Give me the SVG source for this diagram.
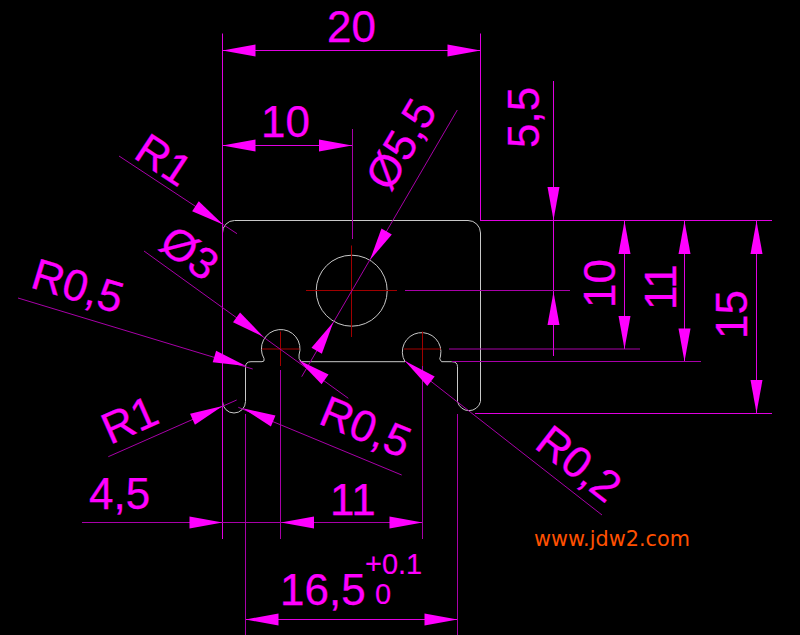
<svg xmlns="http://www.w3.org/2000/svg" width="800" height="635" viewBox="0 0 800 635">
<style>
.o{fill:none;stroke:#c8c8c8;stroke-width:1}
.c{fill:none;stroke:#a00000;stroke-width:1}
.d{fill:none;stroke:#a800a8;stroke-width:1}
.b{fill:none;stroke:#e000e0;stroke-width:1}
.a{fill:#ff00ff}
.t{fill:#ff00ff;stroke:#ff00ff;stroke-width:.25;font-family:"Liberation Sans",Arial,sans-serif;font-size:44px}
.s{font-size:29px;stroke-width:.1}
.w{fill:#ff5000;font-family:"DejaVu Sans",Verdana,sans-serif;font-size:20.8px}
</style>
<defs><path id="a" class="a" d="M0 0L-33-6V6Z"/></defs>
<rect width="800" height="635" fill="#000"/>
<g id="outline">
<path class="o" d="M222.5 233A12 12 0 0 1 234.500 220.500H468A12.500 12.500 0 0 1 480.500 233V401.500A11.800 11.800 0 0 1 457.500 401.500V366.700Q457.500 361.700 451.700 361.700H441.500Q438.500 359 440.500 356A19.300 19.300 0 1 0 405 361.700H301.500Q298 359 299 355A19.300 19.300 0 1 0 264 358.500Q265 361.700 262 361.700H251Q245.500 361.700 245.500 367V401.500A11.500 11.500 0 0 1 222.500 401.500Z"/>
<circle class="o" cx="351.700" cy="290.700" r="35.500"/>
</g>
<g id="centerlines">
<path class="c" d="M306 290.500H397M351.500 245.500V337M262 349H299.500M280.500 331.500V366M404 349H441M422.500 331.500V366"/>
</g>
<g id="connectors">
<path class="b" d="M222.500 33.500V539M480.500 33.500V221M222 50.500H480M222 145.500H352M480 220.500H772M553.500 81V356M624.500 221V349M684.500 221V361.500M756.500 221V413M475 413.500H772M245 619.500H457.500"/>
<path class="d" d="M352.500 129V239M119 156L237 233.700M457.300 110L301.700 376.700M144 251L348.300 398.300M18 298L252.700 369M108.300 456.700L236.700 400M401.700 475L238.300 407.300M602 515L405 361"/>
<path class="d" d="M405 290.500H570M449 349H640M452 361.500H701"/>
<path class="d" d="M280.500 370V539M422.500 366V539M245.500 414V635M457.500 414V635M82 522.500H422.500"/>
<use href="#a" transform="translate(222.500 50.500) rotate(180)"/>
<use href="#a" transform="translate(480.500 50.500)"/>
<use href="#a" transform="translate(222.500 145.500) rotate(180)"/>
<use href="#a" transform="translate(352 145.500)"/>
<use href="#a" transform="translate(223 224.500) rotate(33.400)"/>
<use href="#a" transform="translate(370 260) rotate(120.300)"/>
<use href="#a" transform="translate(333.300 322.300) rotate(-59.700)"/>
<use href="#a" transform="translate(263.300 336.700) rotate(35.800)"/>
<use href="#a" transform="translate(298.300 360) rotate(-144.200)"/>
<use href="#a" transform="translate(246 366) rotate(16.800)"/>
<use href="#a" transform="translate(222.700 406) rotate(-23.800)"/>
<use href="#a" transform="translate(242.700 408.300) rotate(-157.500)"/>
<use href="#a" transform="translate(405 361) rotate(-142)"/>
<use href="#a" transform="translate(553.500 220) rotate(90)"/>
<use href="#a" transform="translate(553.500 292) rotate(-90)"/>
<use href="#a" transform="translate(624.500 221) rotate(-90)"/>
<use href="#a" transform="translate(624.500 349) rotate(90)"/>
<use href="#a" transform="translate(684.500 221) rotate(-90)"/>
<use href="#a" transform="translate(684.500 361.500) rotate(90)"/>
<use href="#a" transform="translate(756.500 221) rotate(-90)"/>
<use href="#a" transform="translate(756.500 413) rotate(90)"/>
<use href="#a" transform="translate(222.500 522.500)"/>
<use href="#a" transform="translate(281 522.500) rotate(180)"/>
<use href="#a" transform="translate(422.500 522.500)"/>
<use href="#a" transform="translate(245.500 619.500) rotate(180)"/>
<use href="#a" transform="translate(457.500 619.500)"/>
</g>
<g id="labels">
<text class="t" x="327" y="42">20</text>
<text class="t" x="261" y="137">10</text>
<text class="t" transform="translate(132 157) rotate(33.400)">R1</text>
<text class="t" transform="translate(390 193) rotate(-59.700)">Ø5,5</text>
<text class="t" transform="translate(157 248) rotate(35.800)">Ø3</text>
<text class="t" transform="translate(29 287) rotate(16.800)">R0,5</text>
<text class="t" transform="translate(110 445) rotate(-23.800)">R1</text>
<text class="t" transform="translate(317 423) rotate(22.500)">R0,5</text>
<text class="t" transform="translate(533 447) rotate(38)">R0,2</text>
<text class="t" transform="translate(539 148) rotate(-90)">5,5</text>
<text class="t" transform="translate(615 308) rotate(-90)">10</text>
<text class="t" transform="translate(676 310) rotate(-90)">11</text>
<text class="t" transform="translate(747 339) rotate(-90)">15</text>
<text class="t" x="89" y="509">4,5</text>
<text class="t" x="330" y="515">11</text>
<text class="t" x="280" y="605">16,5</text>
<text class="t s" x="365" y="574">+0.1</text>
<text class="t s" x="375" y="604">0</text>
<text class="w" x="534" y="546">www.jdw2.com</text>
</g>
</svg>
